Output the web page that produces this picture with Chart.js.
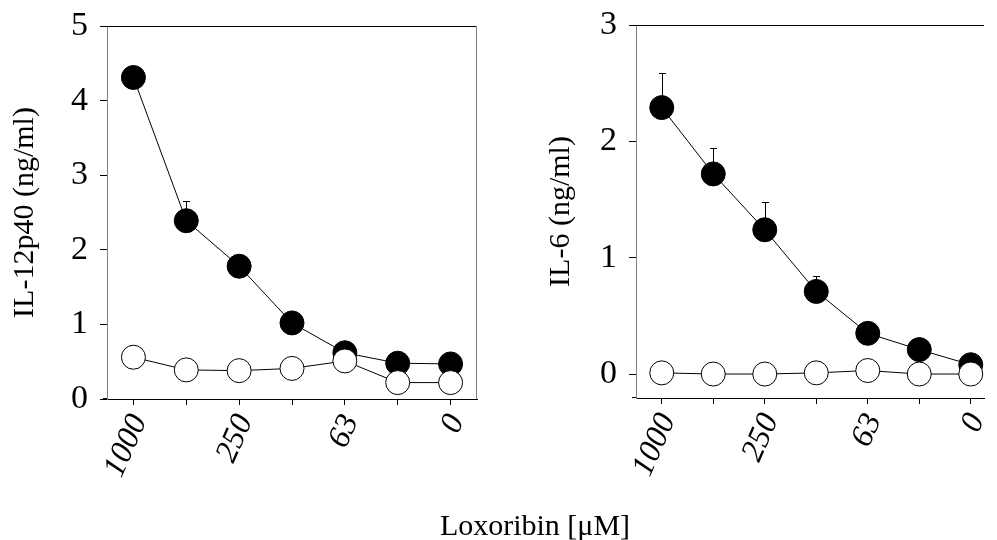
<!DOCTYPE html>
<html>
<head>
<meta charset="utf-8">
<script src="https://cdn.jsdelivr.net/npm/chart.js@4.4.1/dist/chart.umd.min.js"></script>
<style>
  html, body { margin:0; padding:0; background:#fff; }
  body { width:997px; height:540px; position:relative; overflow:hidden; font-family:"Liberation Serif", serif; }
  #cLeft { position:absolute; left:0; top:0; }
  #cRight { position:absolute; left:490px; top:0; }
  #xTitle { position:absolute; left:335px; width:400px; top:510px; text-align:center; font-size:30px; line-height:30px; color:#000; }
</style>
</head>
<body>
<canvas id="cLeft" width="490" height="540"></canvas>
<canvas id="cRight" width="507" height="540"></canvas>
<div id="xTitle">Loxoribin [μM]</div>
<script>
// doses (µM), left to right; only every other one is labelled
const doses = ["1000", "500", "250", "125", "63", "31", "0"];
const doseLabels = ["1000", "", "250", "", "63", "", "0"];

// IL-12p40 (ng/ml)
const il12Filled = [4.31, 2.39, 1.78, 1.02, 0.62, 0.48, 0.47];
const il12FilledErr = [0, 0.26, 0, 0, 0, 0, 0];
const il12Open = [0.56, 0.39, 0.38, 0.41, 0.51, 0.22, 0.22];
const il12Ticks = [0, 1, 2, 3, 4, 5];

// IL-6 (ng/ml)
const il6Filled = [2.29, 1.72, 1.24, 0.71, 0.35, 0.21, 0.08];
const il6FilledErr = [0.30, 0.22, 0.24, 0.13, 0, 0, 0];
const il6Open = [0.01, 0, 0, 0.01, 0.03, 0, 0];
const il6Ticks = [0, 1, 2, 3];

const SERIF = "'Liberation Serif', 'Times New Roman', serif";

// upper error bars only, drawn under the markers
const errorBars = {
  id: "errorBars",
  beforeDatasetsDraw(chart) {
    const { ctx, scales: { x, y } } = chart;
    ctx.save();
    ctx.strokeStyle = "#000";
    ctx.lineWidth = 1;
    chart.data.datasets.forEach(ds => {
      if (!ds.errUp) return;
      ds.data.forEach((p, i) => {
        const e = ds.errUp[i];
        if (!e) return;
        const px = Math.round(x.getPixelForValue(p.x)) + 0.5;
        const y0 = y.getPixelForValue(p.y);
        const y1 = Math.round(y.getPixelForValue(p.y + e)) + 0.5;
        ctx.beginPath();
        ctx.moveTo(px, y0); ctx.lineTo(px, y1);
        ctx.moveTo(px - 3.5, y1); ctx.lineTo(px + 3.5, y1);
        ctx.stroke();
      });
    });
    ctx.restore();
  }
};

// top line (and right line on the left panel), x axis stub left of the y axis
const frame = {
  id: "frame",
  afterDraw(chart, args, o) {
    const { ctx, chartArea: a } = chart;
    ctx.save();
    ctx.lineWidth = 1;
    ctx.strokeStyle = "#000";
    ctx.beginPath();
    ctx.moveTo(a.left, Math.round(a.top) + 0.5);
    ctx.lineTo(a.right, Math.round(a.top) + 0.5);
    ctx.moveTo(a.left - 4, Math.round(a.bottom) - 0.5);
    ctx.lineTo(a.left, Math.round(a.bottom) - 0.5);
    ctx.stroke();
    if (o.right) {
      ctx.strokeStyle = "#808080";
      ctx.beginPath();
      ctx.moveTo(Math.round(a.right) - 0.5, a.top);
      ctx.lineTo(Math.round(a.right) - 0.5, a.bottom);
      ctx.stroke();
    }
    ctx.restore();
  }
};

function panel(canvas, cfg) {
  const pts = arr => arr.map((v, i) => ({ x: i, y: v }));
  return new Chart(canvas, {
    type: "line",
    data: {
      datasets: [
        { data: pts(cfg.open), borderColor: "#000", borderWidth: 1, pointRadius: 12,
          pointBackgroundColor: "#fff", pointBorderColor: "#000", pointBorderWidth: 1, clip: false },
        { data: pts(cfg.filled), errUp: cfg.err, borderColor: "#000", borderWidth: 1, pointRadius: 12,
          pointBackgroundColor: "#000", pointBorderColor: "#000", pointBorderWidth: 1, clip: false }
      ]
    },
    options: {
      responsive: false,
      animation: false,
      events: [],
      layout: { padding: { top: cfg.top, right: cfg.padRight, left: 0, bottom: 0 } },
      plugins: { legend: { display: false }, tooltip: { enabled: false }, frame: { right: cfg.frameRight } },
      scales: {
        x: {
          type: "linear", min: -0.5, max: cfg.xMax,
          afterBuildTicks: s => { s.ticks = doses.map((d, i) => ({ value: i })); },
          afterFit: s => { s.height = cfg.xHeight; s.paddingLeft = 0; s.paddingRight = 0; },
          border: { color: "#000", width: 1 },
          grid: { drawOnChartArea: false, tickLength: 6, color: "#000" },
          ticks: {
            autoSkip: false, minRotation: 66, maxRotation: 66, padding: 4, labelOffset: 6, color: "#000",
            font: { family: SERIF, size: 32, style: "italic" },
            callback: v => doseLabels[v]
          }
        },
        y: {
          min: cfg.yMin, max: cfg.yMax,
          afterBuildTicks: s => { s.ticks = cfg.ticks.map(v => ({ value: v })); },
          afterFit: s => { s.width = cfg.yWidth; s.paddingTop = 0; s.paddingBottom = 0; },
          border: { color: "#808080", width: 1 },
          grid: { drawOnChartArea: false, tickLength: 7, color: "#000" },
          ticks: { padding: 12, color: "#000", font: { family: SERIF, size: 34 } },
          title: {
            display: true, text: cfg.title, color: "#000",
            font: { family: SERIF, size: 30 }, padding: { top: cfg.titlePad, bottom: 0 }
          }
        }
      }
    },
    plugins: [errorBars, frame]
  });
}

panel(document.getElementById("cLeft"), {
  open: il12Open, filled: il12Filled, err: il12FilledErr, ticks: il12Ticks,
  yMin: 0, yMax: 5, xMax: 6.5, title: "IL-12p40 (ng/ml)",
  top: 26, padRight: 9, xHeight: 141, yWidth: 107, titlePad: 7, frameRight: true
});

panel(document.getElementById("cRight"), {
  open: il6Open, filled: il6Filled, err: il6FilledErr, ticks: il6Ticks,
  yMin: -0.206, yMax: 3, xMax: 6.257, title: "IL-6 (ng/ml)",
  top: 25, padRight: 0, xHeight: 142, yWidth: 146, titlePad: 53, frameRight: false
});
</script>
</body>
</html>
